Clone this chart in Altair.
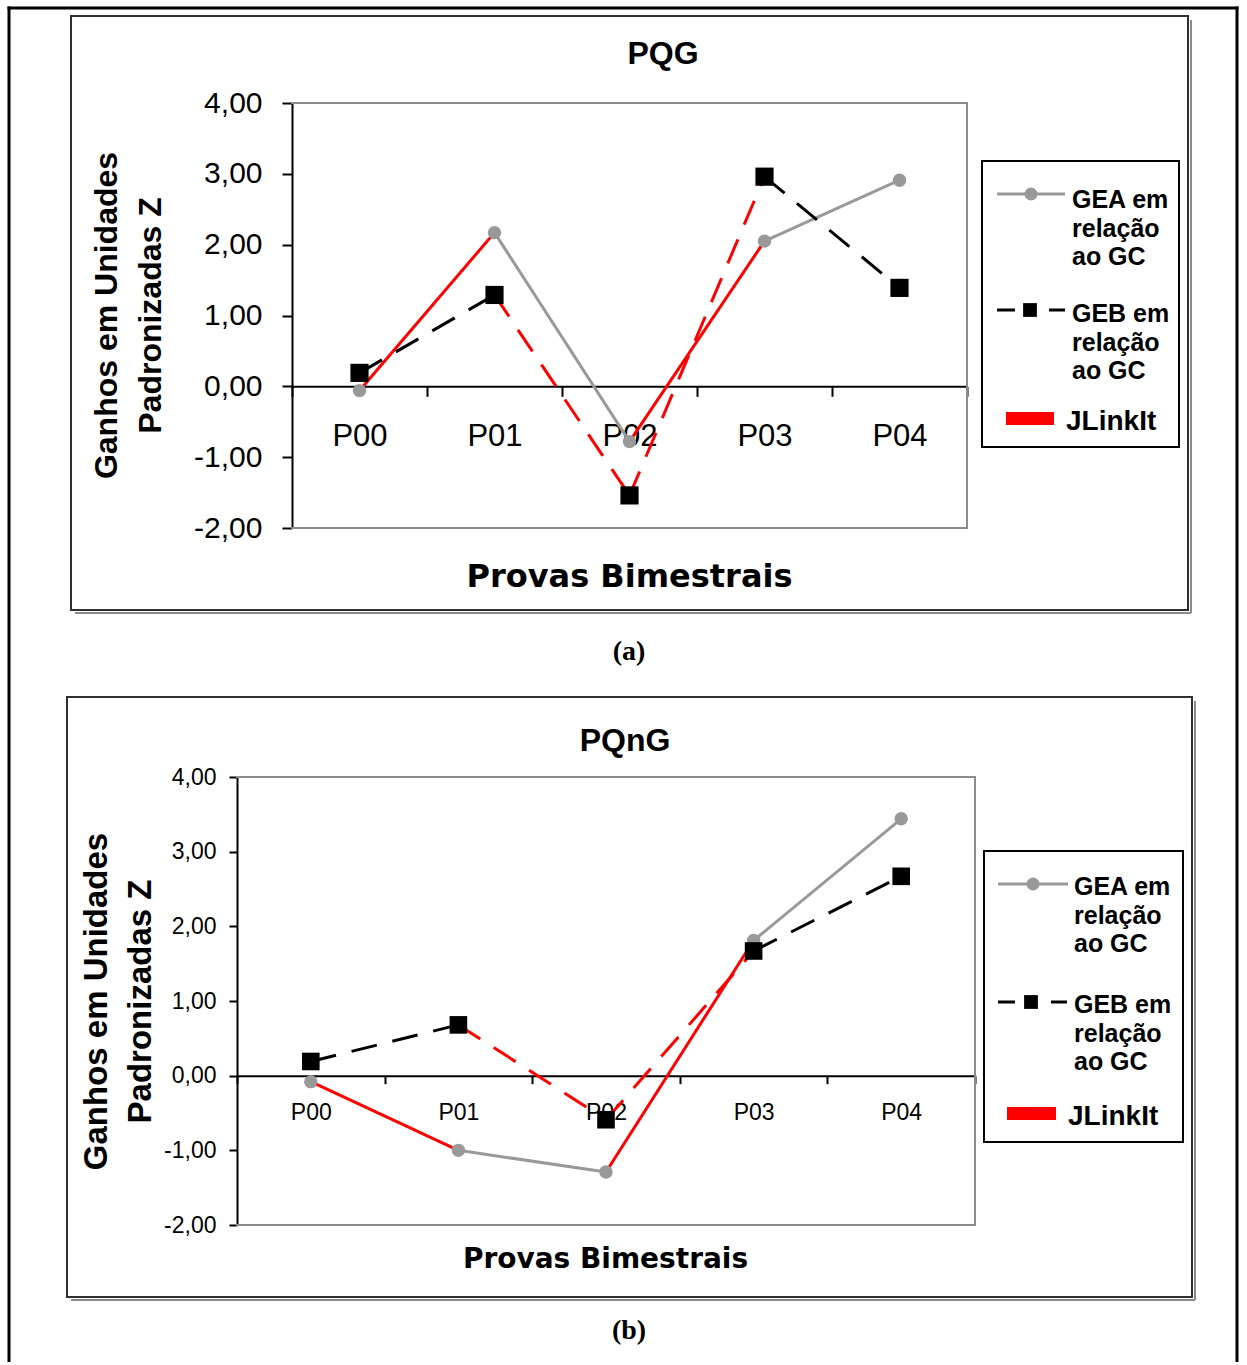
import altair as alt
import pandas as pd

# ---------------- data ----------------
provas = ["P00", "P01", "P02", "P03", "P04"]
pqg_gea = [-0.06, 2.17, -0.78, 2.05, 2.91]
pqg_geb = [0.19, 1.29, -1.54, 2.96, 1.39]
pqng_gea = [-0.08, -1.00, -1.29, 1.81, 3.44]
pqng_geb = [0.19, 0.68, -0.59, 1.67, 2.67]
# colour class of each segment (P00-P01, P01-P02, P02-P03, P03-P04)
trecho_gea = ["JLinkIt", "GEA", "JLinkIt", "GEA"]
trecho_geb = ["GEB", "JLinkIt", "JLinkIt", "GEB"]
y_ticks = [-2, -1, 0, 1, 2, 3, 4]
grupos = ["GEA", "GEB", "JLinkIt"]
cores = ["#999999", "#000000", "#ff0000"]
legenda = [["GEA em", "relação", "ao GC"], ["GEB em", "relação", "ao GC"], ["JLinkIt"]]
titulo_y = ["Ganhos em Unidades", "Padronizadas Z"]
titulo_x = "Provas Bimestrais"

PAGE_W, PAGE_H = 1247, 1362
one = pd.DataFrame({"k": [0]})


def segmentos(valores, trechos, serie):
    rows = []
    for k, t in enumerate(trechos):
        for j in (k, k + 1):
            rows.append({"prova": provas[j], "valor": valores[j], "seg": f"{serie}{k}", "trecho": t})
    return pd.DataFrame(rows)


def pontos(valores):
    return pd.DataFrame({"prova": provas, "valor": valores})


def rule(x1, y1, x2, y2, color, w, cap="butt"):
    return alt.Chart(one).mark_rule(color=color, strokeWidth=w, strokeCap=cap).encode(
        x=alt.value(x1), x2=alt.value(x2), y=alt.value(y1), y2=alt.value(y2))


def caixa(x1, y1, x2, y2, color, w):
    return alt.Chart(one).mark_rect(fillOpacity=0, stroke=color, strokeWidth=w).encode(
        x=alt.value(x1), x2=alt.value(x2), y=alt.value(y1), y2=alt.value(y2))


def texto(t, x, y, font, fs, weight="bold", align="center", lh=None):
    kw = dict(text=t, font=font, fontSize=fs, fontWeight=weight, align=align,
              baseline="alphabetic", color="black")
    if lh is not None:
        kw["lineHeight"] = lh
    return alt.Chart(one).mark_text(**kw).encode(x=alt.value(x), y=alt.value(y))


def painel(titulo, rotulo, gea, geb, g):
    ox, oy, W, H = g["ox"], g["oy"], g["W"], g["H"]
    zero_y = oy + H * 4 / 6

    xs = alt.Scale(type="band", domain=provas, range=[ox, ox + W], paddingInner=0, paddingOuter=0)
    ys = alt.Scale(domain=[-2, 4], range=[oy + H, oy], nice=False, zero=False)
    x_enc = alt.X(
        "prova:N", scale=xs, sort=provas,
        axis=alt.Axis(
            orient="bottom", title=titulo_x, tickBand="extent", offset=zero_y - PAGE_H, labelAngle=0,
            labelFont="Liberation Sans", labelFontSize=g["xtick_fs"], labelColor="black",
            labelBaseline="middle", labelPadding=g["xlab_pad"], tickSize=g["tick"],
            tickColor="black", tickWidth=2, domainColor="black", domainWidth=2, grid=False,
            titleFont="DejaVu Sans", titleFontSize=g["xtitle_fs"], titleFontWeight="bold",
            titleColor="black", titleX=g["xtitle"][0], titleY=g["xtitle"][1] - zero_y,
            titleBaseline="alphabetic", titleAlign="center",
        ),
    )
    y_enc = alt.Y(
        "valor:Q", scale=ys,
        axis=alt.Axis(
            orient="left", offset=-ox, values=y_ticks,
            labelExpr="(datum.value < 0 ? '-' : '') + replace(format(abs(datum.value), '.2f'), '.', ',')",
            labelFont="Liberation Sans", labelFontSize=g["ytick_fs"], labelColor="black",
            labelPadding=g["ylab_pad"], tickSize=g["tick"], tickColor="black", tickWidth=2,
            domainColor="black", domainWidth=2, grid=False,
            title=titulo_y, titleFont="Liberation Sans", titleFontSize=g["ytitle_fs"],
            titleFontWeight="bold", titleColor="black", titleLineHeight=g["ytitle_lh"],
            titleX=g["ytitle"][0] - ox, titleY=g["ytitle"][1], titleBaseline="middle",
            titleAlign="center", titleAngle=270,
        ),
    )
    cor = alt.Color("trecho:N", scale=alt.Scale(domain=grupos, range=cores), legend=None)

    deco = []
    # panel box with shadow
    bx0, by0, bx1, by1 = g["box"]
    deco.append(rule(bx1 + 3, by0 + 4, bx1 + 3, by1 + 3, "#8a8a8a", 2))
    deco.append(rule(bx0 + 4, by1 + 3, bx1 + 3, by1 + 3, "#8a8a8a", 2))
    deco.append(caixa(bx0, by0, bx1, by1, "#303030", 2))
    # plot area frame (grey)
    deco.append(rule(ox, oy, ox + W, oy, "#8c8c8c", 2, "square"))
    deco.append(rule(ox + W, oy, ox + W, oy + H, "#8c8c8c", 2, "square"))
    deco.append(rule(ox, oy + H, ox + W, oy + H, "#8c8c8c", 2, "square"))

    dados = alt.layer(
        alt.Chart(segmentos(gea, trecho_gea, "a")).mark_line(strokeWidth=3).encode(
            x=x_enc, y=y_enc, color=cor, detail="seg:N"),
        alt.Chart(pontos(gea)).mark_point(
            shape="circle", filled=True, size=g["circ"], color="#999999", opacity=1).encode(x=x_enc, y=y_enc),
        alt.Chart(segmentos(geb, trecho_geb, "b")).mark_line(
            strokeWidth=3, strokeDash=[26, 16]).encode(x=x_enc, y=y_enc, color=cor, detail="seg:N"),
        alt.Chart(pontos(geb)).mark_point(
            shape="square", filled=True, size=g["sq"], color="black", opacity=1).encode(x=x_enc, y=y_enc),
    )

    extra = []
    extra.append(texto(titulo, g["title"][0], g["title"][1], "Liberation Sans", 32))
    extra.append(texto(rotulo, g["caption"][0], g["caption"][1], "Liberation Serif", 28))
    # legend
    lx0, ly0, lx1, ly1 = g["legbox"]
    extra.append(caixa(lx0, ly0, lx1, ly1, "black", 2))
    s0, s1 = g["symx"]
    ya = g["sym_y"][0]
    extra.append(rule(s0, ya, s1, ya, "#999999", 3))
    extra.append(alt.Chart(one).mark_point(shape="circle", filled=True, size=170, color="#999999", opacity=1)
                 .encode(x=alt.value(g["circx"]), y=alt.value(ya)))
    yb = g["sym_y"][1]
    d1, d2 = g["dash1"], g["dash2"]
    extra.append(rule(d1[0], yb, d1[1], yb, "black", 3))
    extra.append(rule(d2[0], yb, d2[1], yb, "black", 3))
    extra.append(alt.Chart(one).mark_point(shape="square", filled=True, size=190, color="black", opacity=1)
                 .encode(x=alt.value(g["sqx"]), y=alt.value(yb)))
    bx = g["bar"]
    extra.append(alt.Chart(one).mark_rect(color="#ff0000").encode(
        x=alt.value(bx[0]), x2=alt.value(bx[2]), y=alt.value(bx[1]), y2=alt.value(bx[3])))
    for lab, yy in zip(legenda, g["lbl_y"]):
        if len(lab) == 1:
            extra.append(texto(lab[0], g["lbl_x"] - 6, yy, "Liberation Sans", 28, align="left"))
        else:
            extra.append(texto(lab, g["lbl_x"], yy, "Liberation Sans", 25, align="left", lh=28.5))
    return deco, dados, extra


g_a = dict(
    ox=292, oy=103, W=675, H=425, box=(71, 16, 1188, 610),
    title=(663, 64), caption=(629, 660), tick=10, xtick_fs=31, ytick_fs=30, xlab_pad=40, ylab_pad=20,
    ytitle=(106.5, 315), ytitle_fs=32, ytitle_lh=44, xtitle=(629, 586), xtitle_fs=32,
    circ=180, sq=330,
    legbox=(982, 161, 1179, 447), symx=(997, 1065), sym_y=(194, 310), circx=1031,
    dash1=(997, 1015), dash2=(1049, 1065), sqx=1030, bar=(1006, 412, 1054, 425),
    lbl_x=1072, lbl_y=(208, 322, 430),
)
g_b = dict(
    ox=237, oy=777, W=738, H=448, box=(67, 697, 1192, 1297),
    title=(625, 751), caption=(629, 1339), tick=8, xtick_fs=23, ytick_fs=23, xlab_pad=29, ylab_pad=13,
    ytitle=(96.5, 1001), ytitle_fs=33, ytitle_lh=44, xtitle=(605, 1267), xtitle_fs=28,
    circ=180, sq=310,
    legbox=(984, 851, 1183, 1142), symx=(998, 1068), sym_y=(884, 1002), circx=1033,
    dash1=(998, 1015), dash2=(1051, 1067), sqx=1031, bar=(1007, 1107, 1056, 1120),
    lbl_x=1074, lbl_y=(895, 1013, 1125),
)

deco_a, dados_a, extra_a = painel("PQG", "(a)", pqg_gea, pqg_geb, g_a)
deco_b, dados_b, extra_b = painel("PQnG", "(b)", pqng_gea, pqng_geb, g_b)

pagina = [
    rule(9, 8, 9, PAGE_H, "black", 3, "square"),
    rule(1237, 8, 1237, PAGE_H, "black", 3, "square"),
    rule(9, 8, 1237, 8, "black", 3, "square"),
]

chart = (
    alt.layer(*pagina, *deco_a, *deco_b, dados_a, dados_b, *extra_a, *extra_b)
    .resolve_scale(x="independent", y="independent")
    .properties(width=PAGE_W, height=PAGE_H, padding=0, background="white",
                autosize=alt.AutoSizeParams(type="none"))
    .configure_view(strokeWidth=0)
)

chart.save("out.html", embed_options={"renderer": "svg", "actions": False})
